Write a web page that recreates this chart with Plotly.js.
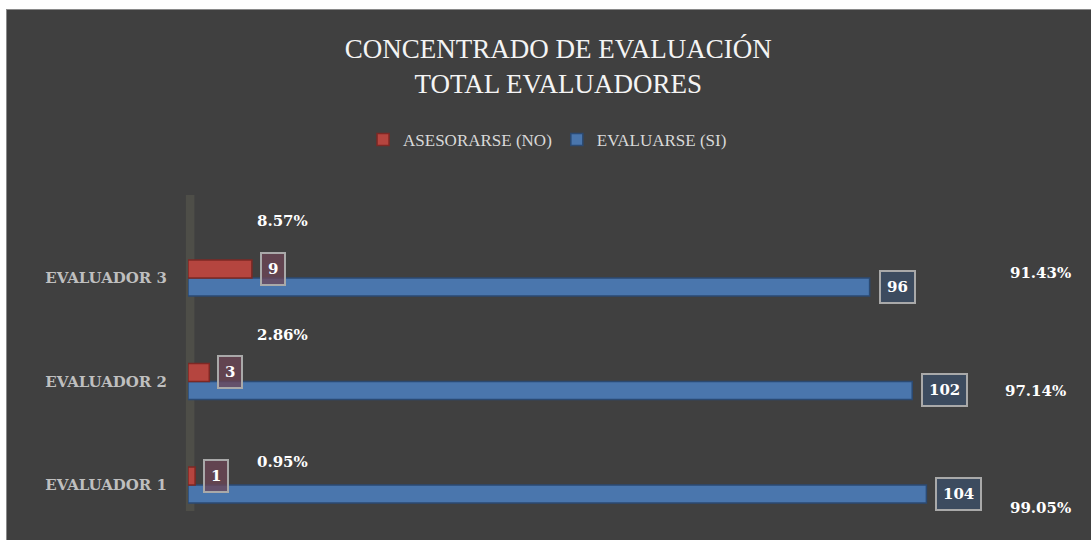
<!DOCTYPE html>
<html>
<head>
<meta charset="utf-8">
<script src="https://cdn.plot.ly/plotly-3.0.1.min.js"></script>
<style>
  html, body { margin: 0; padding: 0; background: #ffffff; width: 1091px; height: 540px; overflow: hidden; }
  #chart { position: absolute; left: 6px; top: 9px; width: 1085px; height: 531px;
           border-left: 1px solid #8a8a8a; border-top: 1px solid #8a8a8a; }
</style>
</head>
<body>
<div id="chart"></div>
<script>
// ---- data ----
const categories = ["EVALUADOR 1", "EVALUADOR 2", "EVALUADOR 3"];
const asesorarseNo = [1, 3, 9];
const evaluarseSi = [104, 102, 96];
const pctNo = ["0.95%", "2.86%", "8.57%"];
const pctSi = ["99.05%", "97.14%", "91.43%"];
const seriesNames = ["ASESORARSE (NO)", "EVALUARSE (SI)"];
const titleLines = ["CONCENTRADO DE EVALUACIÓN", "TOTAL EVALUADORES"];

const RED = "#b5453f", RED_LINE = "#7d2824";
const BLUE = "#4a76ad", BLUE_LINE = "#2b4a73";

const traceSi = {
  type: "bar", orientation: "h", name: seriesNames[1],
  y: categories, x: evaluarseSi,
  marker: { color: BLUE, line: { color: BLUE_LINE, width: 1.5 } },
  legendrank: 2
};
const traceNo = {
  type: "bar", orientation: "h", name: seriesNames[0],
  y: categories, x: asesorarseNo,
  marker: { color: RED, line: { color: RED_LINE, width: 1.5 } },
  legendrank: 1
};

const valFont = { family: "DejaVu Serif", size: 15, color: "#ffffff", weight: "bold" };
const annotations = [];
// value boxes
categories.forEach((c, i) => {
  annotations.push({
    x: asesorarseNo[i], y: c, xref: "x", yref: "y", text: "<b>" + asesorarseNo[i] + "</b>",
    showarrow: false, xanchor: "left", yanchor: "middle", xshift: 8, yshift: 9,
    font: valFont, bgcolor: "rgba(110,70,85,0.75)", bordercolor: "#a9a9a9", borderwidth: 2, borderpad: 6
  });
  annotations.push({
    x: evaluarseSi[i], y: c, xref: "x", yref: "y", text: "<b>" + evaluarseSi[i] + "</b>",
    showarrow: false, xanchor: "left", yanchor: "middle", xshift: 9, yshift: -9,
    font: valFont, bgcolor: "#3c4b5f", bordercolor: "#a9a9a9", borderwidth: 2, borderpad: 6
  });
});
// percentage labels (manually placed in the original chart)
const pctNoShift = [23, 46, 57];
const pctSiX = [1.001, 0.995, 1.001];
const pctSiShift = [-23, -10, 5];
categories.forEach((c, i) => {
  annotations.push({
    x: 0.1115, y: c, xref: "paper", yref: "y", text: "<b>" + pctNo[i] + "</b>",
    showarrow: false, xanchor: "center", yanchor: "middle", yshift: pctNoShift[i], font: valFont
  });
  annotations.push({
    x: pctSiX[i], y: c, xref: "paper", yref: "y", text: "<b>" + pctSi[i] + "</b>",
    showarrow: false, xanchor: "center", yanchor: "middle", yshift: pctSiShift[i], font: valFont
  });
});

const layout = {
  width: 1085, height: 531,
  paper_bgcolor: "#404040", plot_bgcolor: "#404040",
  margin: { l: 181, r: 52, t: 185, b: 30, pad: 0 },
  title: {
    text: titleLines.join("<br>"),
    font: { family: "Liberation Serif", size: 27, color: "#f4f4f4" },
    x: 0.508, xanchor: "center", xref: "container",
    y: 0.909, yanchor: "top", yref: "container"
  },
  showlegend: true,
  legend: {
    orientation: "h", x: 0.422, xanchor: "center", y: 1.174, yanchor: "middle",
    font: { family: "Liberation Serif", size: 17, color: "#d9d9d9" },
    bgcolor: "rgba(0,0,0,0)", traceorder: "normal", itemwidth: 30
  },
  barmode: "group", bargap: 0.6525, bargroupgap: 0,
  xaxis: {
    range: [0, 120], showgrid: false, zeroline: false, showticklabels: false,
    showline: false, ticks: "", fixedrange: true
  },
  yaxis: {
    type: "category", range: [-0.25, 2.8], showgrid: false, zeroline: false,
    showline: false, ticks: "",
    tickfont: { family: "DejaVu Serif", size: 15, color: "#bfbfbf", weight: "bold" },
    ticklabelstandoff: 20, fixedrange: true
  },
  shapes: [{
    type: "rect", xref: "paper", yref: "paper", layer: "below",
    x0: -0.0025, x1: 0.0075, y0: 0, y1: 1,
    fillcolor: "#4e4e48", line: { width: 0 }
  }],
  annotations: annotations,
  hovermode: false
};

Plotly.newPlot("chart", [traceSi, traceNo], layout, { displayModeBar: false, staticPlot: true });
</script>
</body>
</html>
